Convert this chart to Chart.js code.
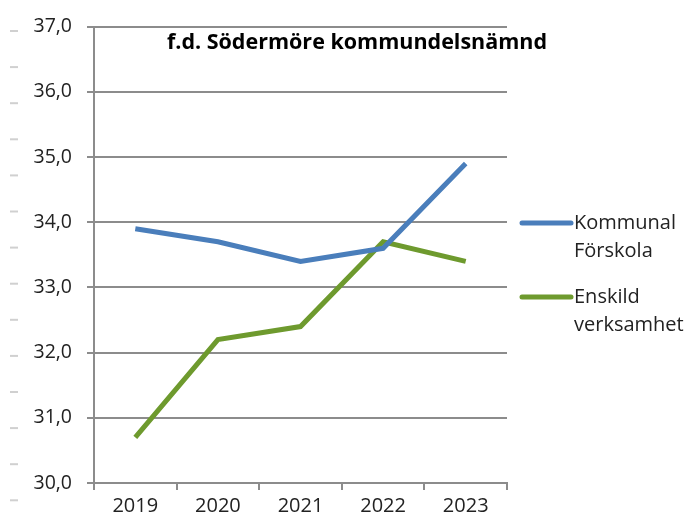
<!DOCTYPE html>
<html>
<head>
<meta charset="utf-8">
<script src="https://cdn.jsdelivr.net/npm/chart.js@4/dist/chart.umd.min.js"></script>
<style>
  html, body { margin: 0; padding: 0; background: #fff; }
  #wrap { width: 690px; height: 524px; }
</style>
</head>
<body>
<div id="wrap"><canvas id="chart" width="690" height="524"></canvas></div>
<script>
const years = ['2019', '2020', '2021', '2022', '2023'];
const kommunal = [33.9, 33.7, 33.4, 33.6, 34.9];
const enskild = [30.7, 32.2, 32.4, 33.7, 33.4];
const seriesNames = [['Kommunal', 'Förskola'], ['Enskild', 'verksamhet']];
const chartTitle = 'f.d. Södermöre kommundelsnämnd';

const FONT = '"Open Sans", "Liberation Sans", sans-serif';

// titel + legend + små streck i vänsterkanten
const extras = {
  id: 'extras',
  afterDraw(chart) {
    const ctx = chart.ctx;
    ctx.save();
    // streck till vänster
    ctx.strokeStyle = '#d0d0d0';
    ctx.lineWidth = 2;
    for (let i = 0; i < 14; i++) {
      const y = 31 + i * 36.1;
      ctx.beginPath();
      ctx.moveTo(10, y);
      ctx.lineTo(18, y);
      ctx.stroke();
    }
    // titel
    ctx.fillStyle = '#000';
    ctx.font = 'bold 21.5px ' + FONT;
    ctx.textAlign = 'center';
    ctx.textBaseline = 'middle';
    ctx.fillText(chartTitle, 357, 43);
    // legend
    ctx.font = '20px ' + FONT;
    ctx.textAlign = 'left';
    const rows = [223, 297];
    chart.data.datasets.forEach((ds, i) => {
      const y = rows[i];
      ctx.strokeStyle = ds.borderColor;
      ctx.lineWidth = 5;
      ctx.lineCap = 'round';
      ctx.beginPath();
      ctx.moveTo(522, y);
      ctx.lineTo(571, y);
      ctx.stroke();
      ctx.fillStyle = '#222';
      seriesNames[i].forEach((t, j) => ctx.fillText(t, 574, y + j * 28));
    });
    ctx.restore();
  }
};

new Chart(document.getElementById('chart'), {
  type: 'line',
  data: {
    labels: years,
    datasets: [
      { label: seriesNames[0].join(' '), data: kommunal, borderColor: '#4a7ebb', borderWidth: 5, pointRadius: 0, tension: 0 },
      { label: seriesNames[1].join(' '), data: enskild, borderColor: '#6e9a2e', borderWidth: 5, pointRadius: 0, tension: 0 }
    ]
  },
  options: {
    responsive: false,
    animation: false,
    layout: { padding: { top: 23, right: 183, bottom: 2, left: 0 } },
    plugins: {
      legend: { display: false },
      title: { display: false },
      tooltip: { enabled: false }
    },
    scales: {
      x: {
        offset: true,
        grid: { offset: true, drawOnChartArea: false, drawTicks: true, tickLength: 7, color: '#8c8c8c', lineWidth: 2 },
        border: { color: '#8c8c8c', width: 2 },
        ticks: { color: '#222', font: { family: FONT, size: 20 }, padding: 4, maxRotation: 0 }
      },
      y: {
        min: 30,
        max: 37,
        afterFit(scale) { scale.width = 94; },
        grid: { color: '#8c8c8c', lineWidth: 2, tickLength: 7 },
        border: { color: '#8c8c8c', width: 2 },
        ticks: {
          stepSize: 1,
          color: '#222',
          padding: 15,
          font: { family: FONT, size: 19.5 },
          callback: v => v.toFixed(1).replace('.', ',')
        }
      }
    }
  },
  plugins: [extras]
});
</script>
</body>
</html>
